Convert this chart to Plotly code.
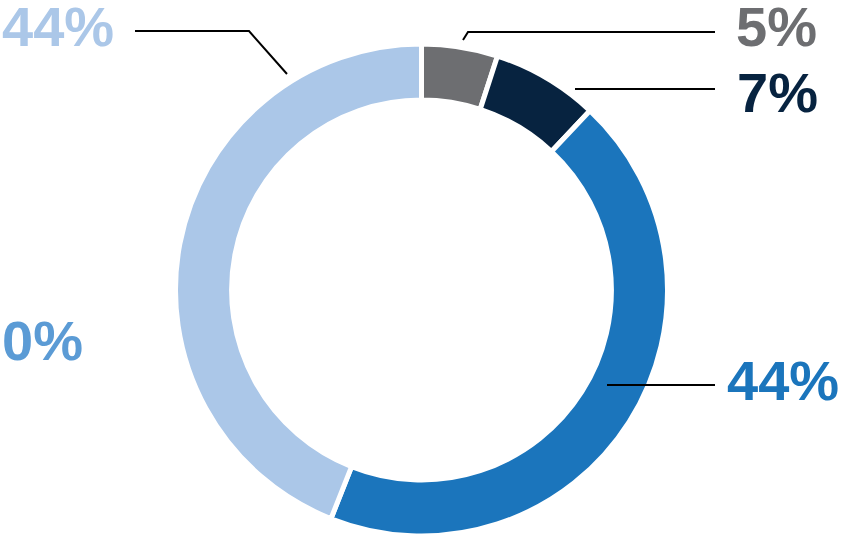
import plotly.graph_objects as go

labels = ["A", "B", "C", "D", "E"]
values = [5, 7, 44, 44, 0]
colors = ["#6D6E71", "#072340", "#1B75BC", "#ABC7E8", "#5B9BD5"]

W, H = 842, 560
cx, cy, R = 421.5, 290, 246

fig = go.Figure(go.Pie(
    labels=labels, values=values, sort=False, direction="clockwise", rotation=0,
    hole=0.772, textinfo="none", hoverinfo="label+percent",
    marker=dict(colors=colors, line=dict(color="white", width=5)),
    domain=dict(x=[(cx - R) / W, (cx + R) / W], y=[(H - cy - R) / H, (H - cy + R) / H]),
    showlegend=False,
))

# label positions (pixels: left x, center y)
label_pos = [(734, 26), (735, 93), (725, 380), (0, 26), (0, 341)]
for i in range(len(values)):
    x, y = label_pos[i]
    fig.add_annotation(
        text=f"{values[i]}%", xref="paper", yref="paper",
        x=x / W, y=1 - y / H, xanchor="left", yanchor="middle", showarrow=False,
        font=dict(family="Liberation Sans, Arial", size=56, color=colors[i], weight="bold"),
    )

leader_lines = [
    [(463, 40), (468, 32), (715, 32)],
    [(575, 89), (715, 89)],
    [(607, 385), (715, 385)],
    [(135, 31), (249, 31), (287, 74)],
]
for pts in leader_lines:
    path = "M " + " L ".join(f"{px / W},{1 - py / H}" for px, py in pts)
    fig.add_shape(type="path", xref="paper", yref="paper", path=path,
                  line=dict(color="black", width=2))

fig.update_layout(width=W, height=H, margin=dict(l=0, r=0, t=0, b=0),
                  paper_bgcolor="white", plot_bgcolor="white")
fig.write_html("out.html", config={"displayModeBar": False},
               post_script="document.body.style.margin='0px';")
